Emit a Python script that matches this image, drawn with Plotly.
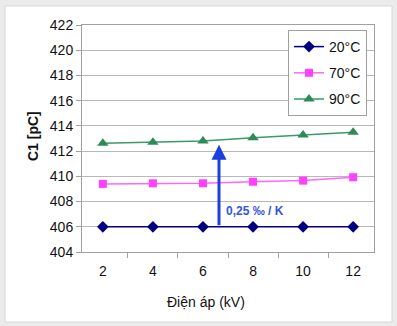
import plotly.graph_objects as go

voltages = ["2", "4", "6", "8", "10", "12"]
c1_20 = [406.0, 406.0, 406.0, 406.0, 406.0, 406.0]
c1_70 = [409.4, 409.45, 409.45, 409.57, 409.66, 409.93]
c1_90 = [412.62, 412.7, 412.8, 413.06, 413.28, 413.5]
series_names = ["20°C", "70°C", "90°C"]
y_ticks = [404, 406, 408, 410, 412, 414, 416, 418, 420, 422]
arrow_x = 2.32
arrow_from = 406.0
arrow_to = 412.5
arrow_label = "0,25 ‰ / K"

FONT = "Liberation Sans, Arial, sans-serif"

fig = go.Figure()
styles = [
    dict(color="#000080", symbol="diamond", size=9, lc="#000080"),
    dict(color="#ff40ff", symbol="square", size=8, lc="#ff66ff"),
    dict(color="#2e8b57", symbol="triangle-up", size=10, lc="#3a9a6a"),
]
for name, vals, st in zip(series_names, [c1_20, c1_70, c1_90], styles):
    fig.add_trace(go.Scatter(
        x=voltages, y=vals, name=name, mode="lines+markers",
        line=dict(color=st["lc"], width=1.5),
        marker=dict(color=st["color"], symbol=st["symbol"], size=st["size"]),
        legendgroup=name,
    ))

L, R, T, B = 82, 23, 25, 74
W, H = 397, 326
pw, ph = W - L - R, H - T - B

def px_x(p):
    return (p - L) / pw

def px_y(p):
    return (H - B - p) / ph

fig.add_shape(type="rect", xref="paper", yref="paper",
              x0=px_x(5), x1=px_x(392), y0=px_y(322), y1=px_y(6),
              fillcolor="white", line=dict(color="#d8d8d8", width=1), layer="below")

fig.add_annotation(x=arrow_x, y=arrow_to, ax=arrow_x, ay=arrow_from,
                   xref="x", yref="y", axref="x", ayref="y",
                   text="", showarrow=True, arrowhead=2, arrowsize=1,
                   arrowwidth=3, arrowcolor="#1a3fe0")
fig.add_annotation(x=px_x(224), y=px_y(211), xref="paper", yref="paper",
                   xanchor="left", yanchor="middle", showarrow=False,
                   text="<b>" + arrow_label + "</b>",
                   font=dict(family=FONT, size=12, color="#3355dd"))
fig.add_annotation(x=px_x(206), y=px_y(302), xref="paper", yref="paper",
                   xanchor="center", yanchor="middle", showarrow=False,
                   text="Điện áp (kV)", font=dict(family=FONT, size=14, color="#111"))
fig.add_annotation(x=px_x(33), y=px_y(136), xref="paper", yref="paper",
                   xanchor="center", yanchor="middle", showarrow=False, textangle=-90,
                   text="<b>C1 [pC]</b>", font=dict(family=FONT, size=14, color="#111"))

fig.update_layout(
    width=W, height=H,
    margin=dict(l=L, r=R, t=T, b=B),
    paper_bgcolor="#ebebeb", plot_bgcolor="white",
    font=dict(family=FONT, size=14, color="#111"),
    showlegend=True,
    legend=dict(x=px_x(288), y=px_y(30), xanchor="left", yanchor="top",
                bgcolor="white", bordercolor="#a0a0a0", borderwidth=1,
                font=dict(family=FONT, size=14, color="#111"),
                traceorder="grouped", tracegroupgap=5),
    xaxis=dict(type="category", tickson="boundaries", ticks="outside", ticklen=5,
               tickcolor="#a0a0a0", showgrid=False, showline=True, linecolor="#a0a0a0",
               mirror=True, tickfont=dict(size=14), ticklabelstandoff=6),
    yaxis=dict(range=[404, 422], tickvals=y_ticks, ticks="outside", ticklen=5,
               tickcolor="#a0a0a0", showgrid=True, gridcolor="#b8b8b8", gridwidth=1,
               showline=True, linecolor="#a0a0a0", mirror=True, zeroline=False,
               tickfont=dict(size=14)),
)

fig.write_html("out.html")
